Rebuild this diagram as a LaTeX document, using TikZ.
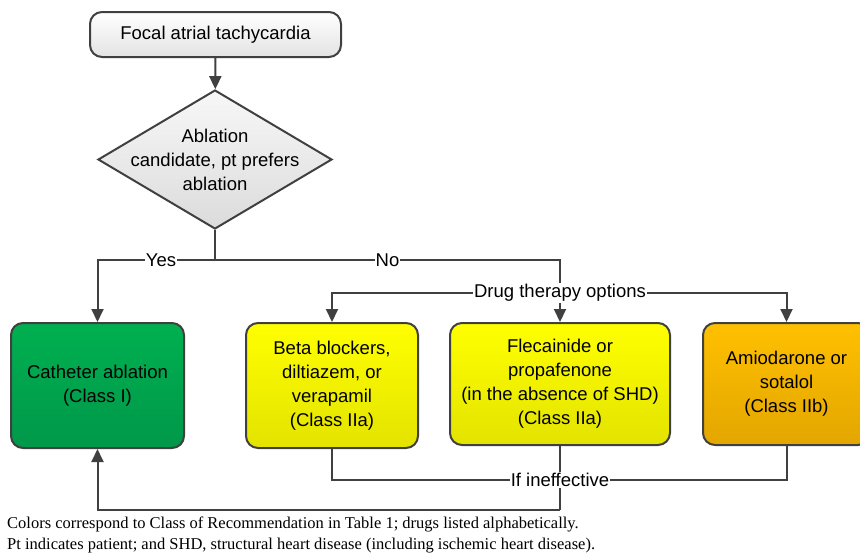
\documentclass[tikz,border=0pt]{standalone}
\usepackage{fontspec}
\setmainfont{Liberation Sans}
\newfontfamily\notefont{Liberation Serif}
\usetikzlibrary{shapes.geometric,arrows.meta}
\definecolor{edge}{HTML}{404040}
\definecolor{greentop}{HTML}{00B050}
\definecolor{greenbot}{HTML}{00984A}
\definecolor{yellowtop}{HTML}{FFFF00}
\definecolor{yellowbot}{HTML}{E3E300}
\definecolor{orangetop}{HTML}{FFC000}
\definecolor{orangebot}{HTML}{E3A600}
\tikzstyle{every node}=[font=\fontsize{18.5}{24}\selectfont]
\tikzstyle{box}=[draw=edge,line width=2pt,rounded corners=12pt,align=center,inner sep=0pt]
\tikzstyle{start}=[box,top color=white,bottom color=gray!22,minimum width=251pt,minimum height=45pt]
\tikzstyle{decision}=[diamond,draw=edge,line width=2pt,top color=gray!6,bottom color=gray!28,minimum width=234pt,minimum height=139pt,inner sep=0pt]
\tikzstyle{classI}=[box,top color=greentop,bottom color=greenbot,minimum width=173pt,minimum height=125pt]
\tikzstyle{classIIa}=[box,top color=yellowtop,bottom color=yellowbot]
\tikzstyle{classIIb}=[box,top color=orangetop,bottom color=orangebot,minimum width=167pt,minimum height=122pt]
\tikzstyle{line}=[draw=edge,line width=2pt]
\tikzstyle{arr}=[line,-{Triangle[length=13pt,width=12pt]}]
\tikzstyle{lbl}=[fill=white,inner sep=1pt]

\begin{document}
\begin{tikzpicture}[x=1pt,y=-1pt]
\useasboundingbox (0,0) rectangle (860,557);
\clip (0,0) rectangle (860,557);

\node[start] (focal) at (215.5,34.5) {Focal atrial tachycardia};
\node[decision,label={[align=center]center:Ablation\\candidate, pt prefers\\ablation}] (cand) at (215,159.5) {};

\node[classI] (cath) at (97.5,385.5) {Catheter ablation\\(Class I)};
\node[classIIa,minimum width=172pt,minimum height=125pt] (beta) at (332,385.5) {Beta blockers,\\diltiazem, or\\verapamil\\(Class IIa)};
\node[classIIa,minimum width=220pt,minimum height=122pt] (flec) at (560,384) {Flecainide or\\propafenone\\(in the absence of SHD)\\(Class IIa)};
\node[classIIb] (amio) at (786.5,384) {Amiodarone or\\sotalol\\(Class IIb)};

\coordinate (split) at (215,260);
\node[lbl] (drug) at (560,293) {Drug therapy options};
\node[lbl] (ineff) at (560,480) {If ineffective};
\coordinate (back) at (560,510);

\draw[arr] (focal) -- (cand);
\draw[line] (cand) -- (split);
\draw[arr] (split) -| node[lbl,pos=0.23] {Yes} (cath);
\draw[line] (split) -| node[lbl,pos=0.25] {No} (drug);
\draw[arr] (drug) -| (beta);
\draw[arr] (drug) -- (flec);
\draw[arr] (drug) -| (amio);
\draw[line] (beta) |- (ineff);
\draw[line] (flec) -- (ineff);
\draw[line] (amio) |- (ineff);
\draw[line] (ineff) -- (back);
\draw[arr] (back) -| (cath);

\node[anchor=north west,inner sep=0pt,align=left,font=\notefont\fontsize{16.5}{21}\selectfont] (note) at (7,517) {Colors correspond to Class of Recommendation in Table 1; drugs listed alphabetically.\\Pt indicates patient; and SHD, structural heart disease (including ischemic heart disease).};
\end{tikzpicture}
\end{document}
